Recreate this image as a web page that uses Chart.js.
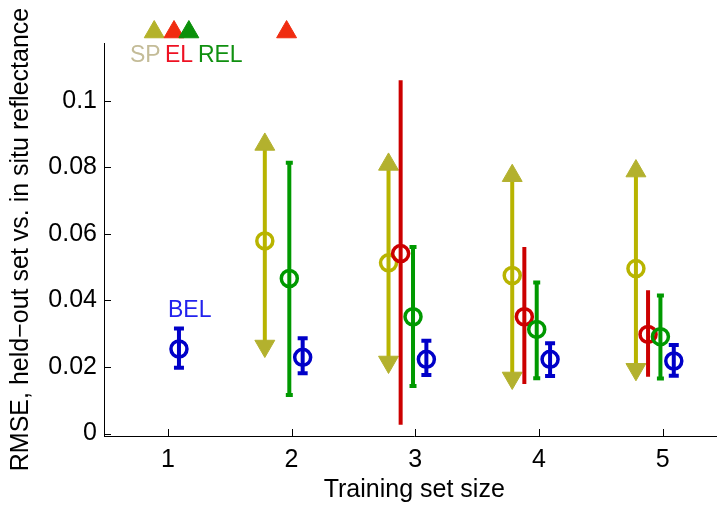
<!DOCTYPE html>
<html>
<head>
<meta charset="utf-8">
<script src="https://cdn.jsdelivr.net/npm/chart.js@4.4.1/dist/chart.umd.min.js"></script>
<style>
  html, body { margin: 0; padding: 0; background: #fff; overflow: hidden; }
  #wrap { position: relative; width: 737px; height: 506px; overflow: hidden; }
  canvas { display: block; }
</style>
</head>
<body>
<div id="wrap"><canvas id="rmseChart" width="737" height="506"></canvas></div>
<script>
const trainingSizes = [1, 2, 3, 4, 5];
const yTickValues = [0, 0.02, 0.04, 0.06, 0.08, 0.1];
const yTickLabels = ['0', '0.02', '0.04', '0.06', '0.08', '0.1'];

// mean and extent of RMSE per training set size (null = not plotted inside the axes)
const spMean = [null, 0.0579, 0.0513, 0.0475, 0.0496];
const spLow  = [null, 0.0263, 0.0215, 0.0167, 0.0193];
const spHigh = [null, 0.0869, 0.0809, 0.0775, 0.0789];

const elMean = [null, null, 0.0541, 0.0351, 0.0298];
const elLow  = [null, null, 0.0026, 0.0149, 0.0171];
const elHigh = [null, null, 0.1062, 0.0561, 0.0431];

const relMean = [null, 0.0466, 0.0351, 0.0313, 0.0291];
const relLow  = [null, 0.0116, 0.0143, 0.0166, 0.0165];
const relHigh = [null, 0.0814, 0.0561, 0.0454, 0.0415];

const belMean = [0.0254, 0.0229, 0.0223, 0.0223, 0.0218];
const belLow  = [0.0198, 0.0181, 0.0176, 0.0173, 0.0174];
const belHigh = [0.0316, 0.0286, 0.0279, 0.0271, 0.0266];

// results off the top of the axes (x position on the size axis)
const spOffTop  = [0.89];
const elOffTop  = [1.05, 1.96];
const relOffTop = [1.17];
const offTopValue = 0.1207;

const FONT = 'Liberation Sans, Arial, Helvetica, sans-serif';

const series = [
  { name: 'SP',  mean: spMean,  low: spLow,  high: spHigh,  off: spOffTop,  dx: -0.216, color: '#b8b400', endColor: '#b3b12e', topColor: '#b4b22a', ends: 'arrow', rank: 3 },
  { name: 'EL',  mean: elMean,  low: elLow,  high: elHigh,  off: elOffTop,  dx: -0.118, color: '#cc0000', topColor: '#f02c10', ends: 'none', rank: 2 },
  { name: 'REL', mean: relMean, low: relLow, high: relHigh, off: relOffTop, dx: -0.018, color: '#009900', topColor: '#0a900a', ends: 'cap', capR: 3.5, rank: 1 },
  { name: 'BEL', mean: belMean, low: belLow, high: belHigh, off: [],        dx: 0.09,   color: '#0000c8', ends: 'cap', capR: 5, rank: 0 },
];

const datasets = [];
series.forEach(s => {
  trainingSizes.forEach((n, i) => {
    if (s.mean[i] == null) return;
    const x = n + s.dx;
    const arrow = s.ends === 'arrow';
    datasets.push({
      label: s.name + ' range ' + n,
      data: [{ x, y: s.low[i] }, { x, y: s.high[i] }],
      borderColor: s.color,
      borderWidth: 4,
      borderCapStyle: 'butt',
      showLine: true,
      pointStyle: arrow ? 'triangle' : 'line',
      pointRotation: arrow ? [180, 0] : 0,
      pointRadius: arrow ? 11.5 : (s.ends === 'cap' ? s.capR : 0),
      pointBackgroundColor: s.endColor || s.color,
      pointBorderColor: s.endColor || s.color,
      pointBorderWidth: arrow ? 1 : 4,
      order: s.rank * 2 + 1,
    });
  });
  datasets.push({
    label: s.name,
    data: trainingSizes.map((n, i) => s.mean[i] == null ? null : { x: n + s.dx, y: s.mean[i] }).filter(Boolean),
    showLine: false,
    pointStyle: 'circle',
    pointRadius: 8,
    pointBorderWidth: 3.5,
    pointBorderColor: s.color,
    pointBackgroundColor: 'rgba(0,0,0,0)',
    order: s.rank * 2,
  });
  if (s.off.length) {
    datasets.push({
      label: s.name + ' off axes',
      data: s.off.map(x => ({ x, y: offTopValue })),
      showLine: false,
      clip: false,
      pointStyle: 'triangle',
      pointRadius: 11.5,
      pointBorderWidth: 1,
      pointBackgroundColor: s.topColor,
      pointBorderColor: s.topColor,
      order: s.rank * 2,
    });
  }
});

// MATLAB style ticks pointing into the axes
const inwardTicks = {
  id: 'inwardTicks',
  afterDraw(chart) {
    const { ctx, chartArea, scales } = chart;
    ctx.save();
    ctx.strokeStyle = '#000';
    ctx.lineWidth = 1;
    ctx.beginPath();
    trainingSizes.forEach(v => {
      const px = Math.round(scales.x.getPixelForValue(v)) + 0.5;
      ctx.moveTo(px, chartArea.bottom);
      ctx.lineTo(px, chartArea.bottom - 7);
    });
    yTickValues.forEach(v => {
      const py = Math.round(scales.y.getPixelForValue(v)) + 0.5;
      ctx.moveTo(chartArea.left, py);
      ctx.lineTo(chartArea.left + 7, py);
    });
    ctx.stroke();
    ctx.restore();
  }
};

// series names written into the plot
const seriesLabels = {
  id: 'seriesLabels',
  afterDraw(chart) {
    const { ctx, scales } = chart;
    const items = [
      { text: 'SP',  x: 0.694, y: 0.1116, color: '#c4bc98' },
      { text: 'EL',  x: 0.977, y: 0.1116, color: '#ee1122' },
      { text: 'REL', x: 1.243, y: 0.1116, color: '#109010' },
      { text: 'BEL', x: 1.001, y: 0.0351, color: '#2222ee' },
    ];
    ctx.save();
    ctx.font = '23px ' + FONT;
    ctx.textAlign = 'left';
    ctx.textBaseline = 'alphabetic';
    items.forEach(it => {
      ctx.fillStyle = it.color;
      ctx.fillText(it.text, scales.x.getPixelForValue(it.x), scales.y.getPixelForValue(it.y));
    });
    ctx.restore();
  }
};

new Chart(document.getElementById('rmseChart'), {
  type: 'line',
  data: { datasets },
  options: {
    responsive: false,
    animation: false,
    events: [],
    devicePixelRatio: 1,
    layout: { padding: { top: 43, left: 0, right: 0, bottom: 0 } },
    plugins: { legend: { display: false }, tooltip: { enabled: false } },
    scales: {
      x: {
        type: 'linear',
        min: 0.484,
        max: 5.5,
        afterBuildTicks: sc => { sc.ticks = trainingSizes.map(v => ({ value: v })); },
        afterFit: sc => { sc.height = 70; sc.paddingLeft = 0; sc.paddingRight = 0; },
        grid: { display: false, drawTicks: false },
        border: { display: true, color: '#000', width: 1 },
        ticks: { color: '#000', font: { family: FONT, size: 25 }, padding: 9, callback: v => String(v) },
        title: { display: true, text: 'Training set size', color: '#000', font: { family: FONT, size: 25 }, padding: { top: 0, bottom: 1 } },
      },
      y: {
        type: 'linear',
        min: -0.00075,
        max: 0.1174,
        afterBuildTicks: sc => { sc.ticks = yTickValues.map(v => ({ value: v })); },
        afterFit: sc => { sc.width = 104; sc.paddingTop = 0; sc.paddingBottom = 0; },
        grid: { display: false, drawTicks: false },
        border: { display: true, color: '#000', width: 1 },
        ticks: { color: '#000', font: { family: FONT, size: 25 }, padding: 7, callback: v => yTickLabels[yTickValues.indexOf(v)] },
        title: { display: true, text: 'RMSE, held\u2212out set vs. in situ reflectance', color: '#000', font: { family: FONT, size: 25 }, padding: { top: 6, bottom: 0 } },
      },
    },
  },
  plugins: [inwardTicks, seriesLabels],
});
</script>
</body>
</html>
